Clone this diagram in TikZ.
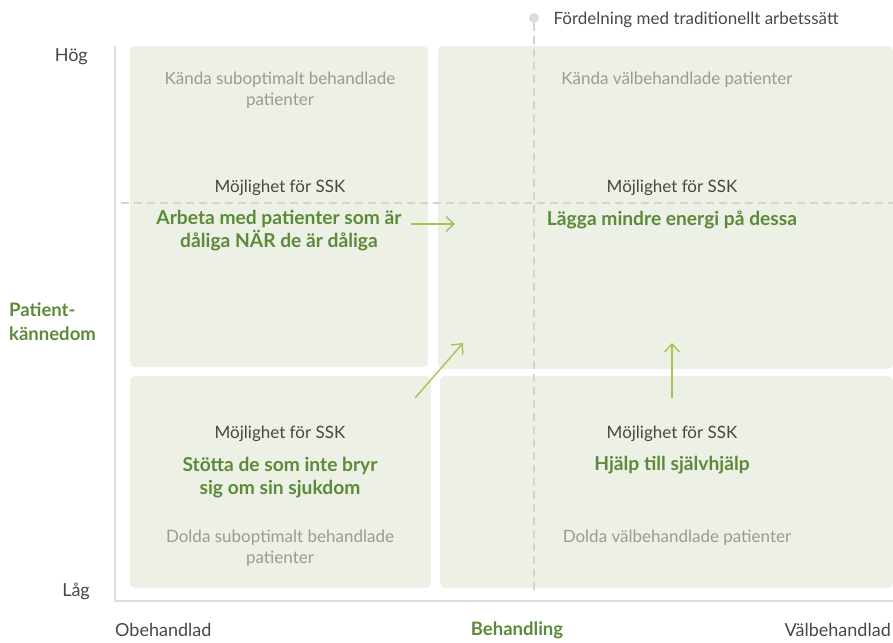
\documentclass[tikz,border=0pt]{standalone}
\usepackage{fontspec}
\setmainfont{Lato}
\usetikzlibrary{arrows.meta}

\definecolor{boxfill}{HTML}{EDF0E4}
\definecolor{leaf}{HTML}{5B8A3A}
\definecolor{sprout}{HTML}{A0C756}
\definecolor{muted}{HTML}{9A9A96}
\definecolor{ink}{HTML}{474747}
\definecolor{rulegray}{HTML}{DCDCDC}
\definecolor{dashgray}{HTML}{D3D6CE}

\tikzset{
  quad/.style={fill=boxfill, rounded corners=5pt},
  hint/.style={text=muted, font=\fontsize{17}{21}\selectfont, align=center},
  chance/.style={text=ink, font=\fontsize{17}{21}\selectfont},
  goal/.style={text=leaf, font=\fontsize{19.2}{23}\selectfont\bfseries, align=center},
  axislbl/.style={text=ink, font=\fontsize{18}{21}\selectfont, inner sep=1pt},
  axisname/.style={text=leaf, font=\fontsize{18.5}{24}\selectfont\bfseries, align=left, inner sep=1pt},
  move/.style={draw=sprout, line width=1.4pt, -{Straight Barb[length=8pt,width=15pt]}},
  guide/.style={draw=dashgray, line width=1.5pt, dash pattern=on 8pt off 5pt}
}

\begin{document}
\begin{tikzpicture}[x=1pt, y=-1pt]
\useasboundingbox (0,0) rectangle (893,642);

% quadrants
\path[quad] (130,46) rectangle (428,367);
\path[quad] (438,46) rectangle (893,369);
\path[quad] (130,376) rectangle (431,588);
\path[quad] (440,376) rectangle (893,588);

% axes
\draw[rulegray, line width=2pt] (115,46) -- (115,601) -- (893,601);

% traditional distribution
\path (534,18) node[circle, fill=rulegray, inner sep=0pt, minimum size=10pt] (dot) {}
      (550,20) node[chance, anchor=west] (legend) {Fördelning med traditionellt arbetssätt};
\coordinate (dot-end) at (534,595);
\draw[guide] (dot) -- (dot-end);
\coordinate (split-l) at (121,203);
\coordinate (split-r) at (893,203);
\draw[guide] (split-l) -- (split-r);

% axis labels
\path (89,57) node[axislbl, anchor=east] (high) {Hög}
      (91,591) node[axislbl, anchor=east] (low) {Låg}
      (8,322) node[axisname, anchor=west] (know) {Patient-\\kännedom}
      (114,630) node[axislbl, anchor=west] (untreated) {Obehandlad}
      (517,630) node[axisname] (treat) {Behandling}
      (892,630) node[axislbl, anchor=east] (welltreated) {Välbehandlad};

% top left
\path (280,90) node[hint] (tl-known) {Kända suboptimalt behandlade\\patienter}
      (280,188) node[chance] (tl-chance) {Möjlighet för SSK}
      (279,231) node[goal] (tl-goal) {Arbeta med patienter som är\\dåliga NÄR de är dåliga};

% top right
\path (677,80) node[hint] (tr-known) {Kända välbehandlade patienter}
      (672,188) node[chance] (tr-chance) {Möjlighet för SSK}
      (672,220) node[goal] (tr-goal) {Lägga mindre energi på dessa};

% bottom left
\path (280,434) node[chance] (bl-chance) {Möjlighet för SSK}
      (280,478) node[goal] (bl-goal) {Stötta de som inte bryr\\sig om sin sjukdom}
      (280,548) node[hint] (bl-hidden) {Dolda suboptimalt behandlade\\patienter};

% bottom right
\path (672,434) node[chance] (br-chance) {Möjlighet för SSK}
      (672,465) node[goal] (br-goal) {Hjälp till självhjälp}
      (677,538) node[hint] (br-hidden) {Dolda välbehandlade patienter};

% shifts
\coordinate (right-from) at (411,224);
\coordinate (right-to) at (455,224);
\coordinate (diag-from) at (415,398);
\coordinate (diag-to) at (463,343);
\coordinate (up-from) at (672,398);
\coordinate (up-to) at (672,343);
\draw[move] (right-from) -- (right-to);
\draw[move] (diag-from) -- (diag-to);
\draw[move] (up-from) -- (up-to);
\end{tikzpicture}
\end{document}
